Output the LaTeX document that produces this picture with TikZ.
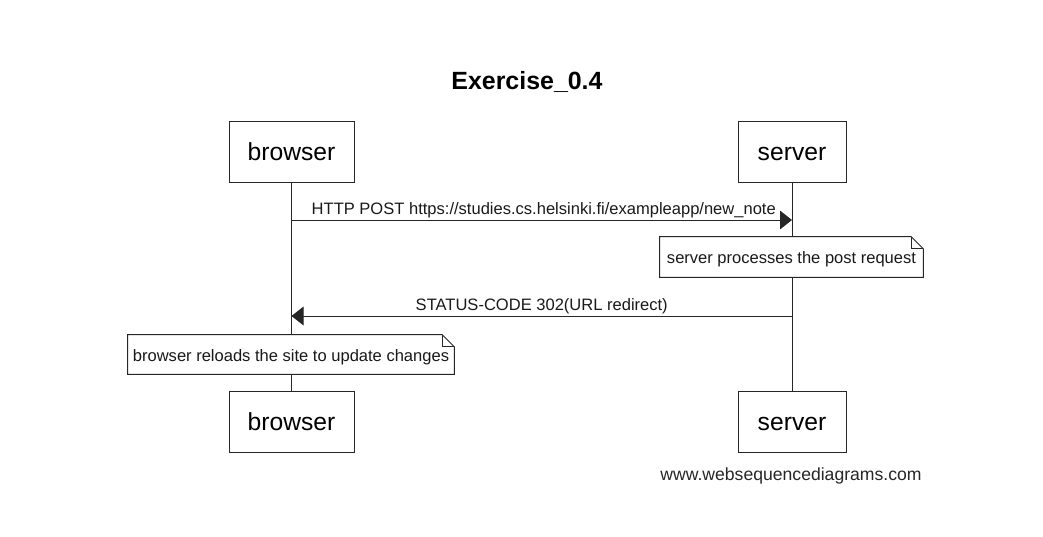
\documentclass[tikz,border=0pt]{standalone}
\usepackage{fontspec}
\setmainfont{Liberation Sans}
\usetikzlibrary{arrows.meta}
\begin{document}
\begin{tikzpicture}[x=0.75pt,y=-0.75pt,
  actor/.style={draw=black!85, line width=0.75pt, fill=white, inner sep=0pt,
    minimum height=45.75pt, text height=13.2pt, text depth=0pt, font=\fontsize{18.5}{22}\selectfont},
  life/.style={draw=black!85, line width=0.75pt},
  msg/.style={draw=black!85, line width=0.75pt, -{Triangle[length=9pt,width=14pt]}},
  msglabel/.style={font=\fontsize{12.4}{15}\selectfont, inner sep=0pt, above=1pt, text=black!90},
  notebox/.style={fill=white, inner sep=0pt, text height=10pt, text depth=0pt, font=\fontsize{12.4}{15}\selectfont, text=black!90},
  noteline/.style={draw=black!85, line width=0.75pt}]
\useasboundingbox (0,0) rectangle (1043,536);
\node[font=\bfseries\fontsize{18.7}{22}\selectfont] (title) at (527,82) {Exercise\_0.4};
% actors
\node[actor, minimum width=93.75pt] (b1) at (291.5,151.5) {browser};
\node[actor, minimum width=81pt] (s1) at (792,151.5) {server};
\node[actor, minimum width=93.75pt] (b2) at (291.5,421.5) {browser};
\node[actor, minimum width=81pt] (s2) at (792,421.5) {server};
% lifelines
\draw[life] (b1.south) -- (b2.north);
\draw[life] (s1.south) -- (s2.north);
% message y levels
\coordinate (y1) at (0,220);
\coordinate (y2) at (0,316);
\draw[msg] (b1 |- y1) -- node[msglabel, xshift=1.5pt] (l1) {HTTP POST https://studies.cs.helsinki.fi/exampleapp/new\_note} (s1 |- y1);
\draw[msg] (s1 |- y2) -- node[msglabel] (l2) {STATUS-CODE 302(URL redirect)} (b1 |- y2);
% notes
\node[notebox, minimum width=197.25pt, minimum height=30pt] (n1) at (791.5,257) {server processes the post request};
\draw[noteline] (n1.north west) -- ([xshift=-9pt]n1.north east) -- ([yshift=-9pt]n1.north east) -- (n1.south east) -- (n1.south west) -- cycle;
\draw[noteline] ([xshift=-9pt]n1.north east) -- ([xshift=-9pt,yshift=-9pt]n1.north east) -- ([yshift=-9pt]n1.north east);
\node[notebox, minimum width=244.5pt, minimum height=29.25pt] (n2) at (291,354.5) {browser reloads the site to update changes};
\draw[noteline] (n2.north west) -- ([xshift=-9pt]n2.north east) -- ([yshift=-9pt]n2.north east) -- (n2.south east) -- (n2.south west) -- cycle;
\draw[noteline] ([xshift=-9pt]n2.north east) -- ([xshift=-9pt,yshift=-9pt]n2.north east) -- ([yshift=-9pt]n2.north east);
% footer
\node[font=\fontsize{13.2}{16}\selectfont, text=black!85] (footer) at (791,476) {www.websequencediagrams.com};
\end{tikzpicture}
\end{document}
